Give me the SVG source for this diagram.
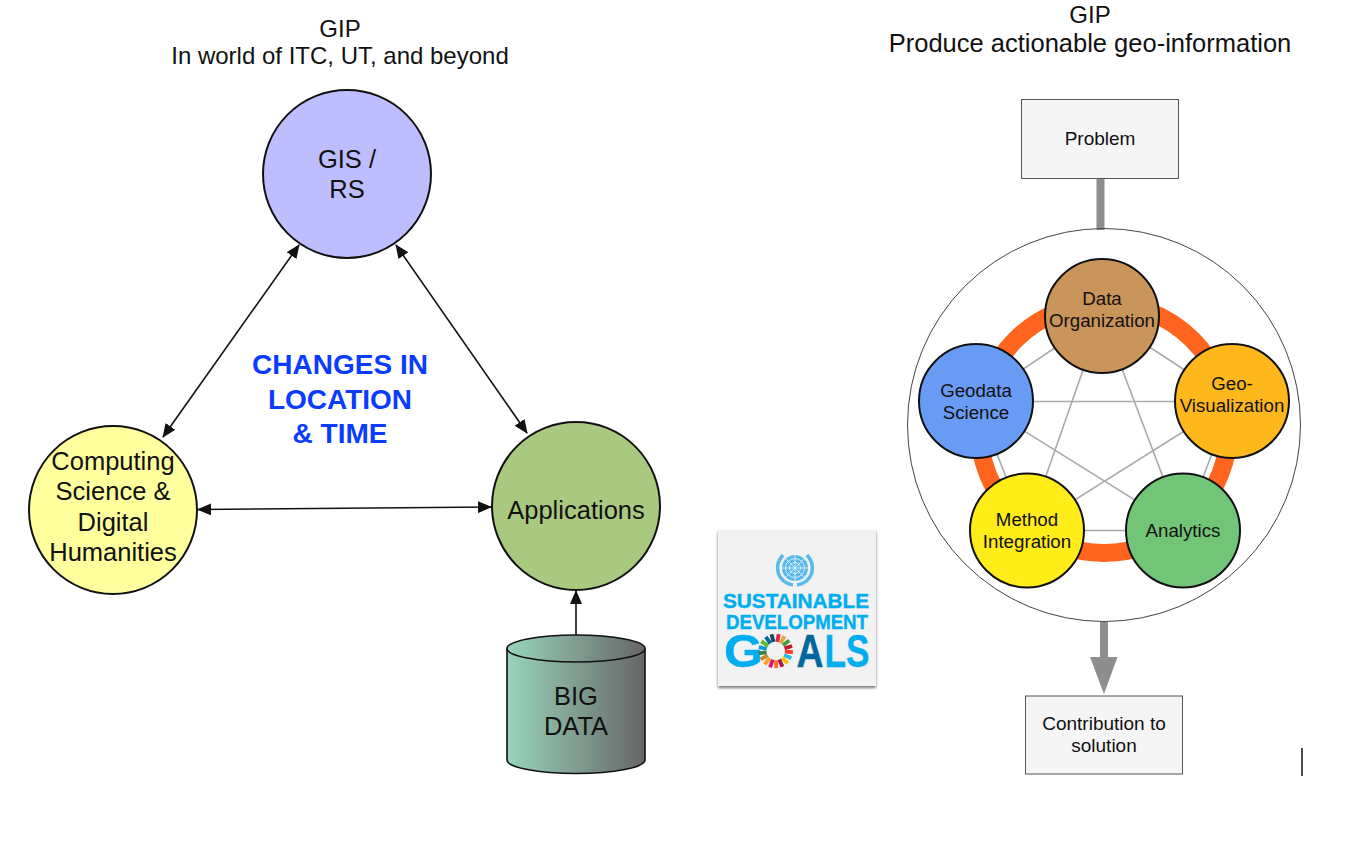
<svg xmlns="http://www.w3.org/2000/svg" width="1351" height="848" viewBox="0 0 1351 848">
<style>
text{font-family:"Liberation Sans",Arial,sans-serif;fill:#111;text-anchor:middle}
.t{font-size:24px}.t2{font-size:25.500px}.n{font-size:25.500px}.p{font-size:18.700px}.b{font-size:19px}
.c{font-size:28px;font-weight:700;fill:#0a3cff}
.big{stroke:#111;stroke-width:2}.ped{stroke:#111;stroke-width:2}
.arrow{stroke:#111;stroke-width:1.600;fill:none;marker-start:url(#ah);marker-end:url(#ah)}
.chord{stroke:#aaa;stroke-width:1.600}
.box{fill:#f5f5f5;stroke:#555;stroke-width:1}
.s{font-weight:700;fill:#00aeef;stroke:#00aeef;stroke-width:.4}
</style>
<defs>
<marker id="ah" viewBox="0 0 14 12" refX="13" refY="6" markerWidth="14" markerHeight="12" markerUnits="userSpaceOnUse" orient="auto-start-reverse"><path d="M0 0L14 6L0 12Z" fill="#111"/></marker>
<linearGradient id="cyl" x1="0" x2="1" y1="0" y2="0"><stop offset="0" stop-color="#98d4ba"/><stop offset="1" stop-color="#666"/></linearGradient>
<filter id="sh" x="-10%" y="-10%" width="120%" height="120%"><feDropShadow dx="0" dy="2" stdDeviation="1.500" flood-color="#555" flood-opacity=".8"/></filter>
</defs>

<g id="titles">
<text class="t" x="340" y="37">GIP</text>
<text class="t" x="340" y="64">In world of ITC, UT, and beyond</text>
<text class="t" x="1090" y="23">GIP</text>
<text class="t2" x="1090" y="52">Produce actionable geo-information</text>
</g>

<g id="connectors">
<line class="arrow" x1="299" y1="245" x2="163" y2="437"/>
<line class="arrow" x1="396" y1="245" x2="527" y2="433"/>
<line class="arrow" x1="198" y1="509.500" x2="491" y2="507"/>
<line x1="576" y1="635" x2="576" y2="591" stroke="#111" stroke-width="1.600" marker-end="url(#ah)"/>
<line x1="1100.500" y1="178" x2="1100.500" y2="230" stroke="#8e8e8e" stroke-width="8"/>
<path d="M1100 622H1108V657H1117.500L1104 694L1090 657H1100Z" fill="#8e8e8e"/>
</g>

<g id="gis"><circle class="big" cx="347" cy="174" r="84" fill="#bdbdff"/><text class="n" x="347" y="168">GIS /</text><text class="n" x="347" y="198">RS</text></g>
<g id="computing"><circle class="big" cx="113" cy="510" r="84" fill="#ffff9e"/><text class="n" x="113" y="470">Computing</text><text class="n" x="113" y="500">Science &amp;</text><text class="n" x="113" y="531">Digital</text><text class="n" x="113" y="561">Humanities</text></g>
<g id="applications"><circle class="big" cx="576" cy="506" r="84" fill="#a9c981"/><text class="n" x="576" y="519">Applications</text></g>
<g id="bigdata"><path d="M507 648.500A69 13.500 0 0 1 645 648.500V760A69 13.500 0 0 1 507 760Z" fill="url(#cyl)" stroke="#111" stroke-width="1.600"/><path d="M507 648.500A69 13.500 0 0 0 645 648.500" fill="none" stroke="#111" stroke-width="1.600"/><text class="n" x="576" y="705">BIG</text><text class="n" x="576" y="735">DATA</text></g>

<g id="changes"><text class="c" x="340" y="374">CHANGES IN</text><text class="c" x="340" y="409">LOCATION</text><text class="c" x="340" y="443">&amp; TIME</text></g>

<g id="sdg">
<rect x="718" y="530" width="158" height="156" fill="#f2f2f2" filter="url(#sh)"/>
<circle cx="795" cy="568" r="13" fill="#5bb8ea"/>
<g fill="none" stroke="#eef7fc" stroke-width=".8"><circle cx="795" cy="568" r="9.500"/><circle cx="795" cy="568" r="5.500"/><path d="M795 555V581M782 568H808M785.800 558.800L804.200 577.200M804.200 558.800L785.800 577.200"/></g>
<path d="M783 555C773 566 777 582 793 585M807 555C817 566 813 582 797 585" fill="none" stroke="#5bb8ea" stroke-width="3.500"/>
<text class="s" x="796" y="608" font-size="21" textLength="146" lengthAdjust="spacingAndGlyphs">SUSTAINABLE</text>
<text class="s" x="797" y="629" font-size="21" textLength="142" lengthAdjust="spacingAndGlyphs">DEVELOPMENT</text>
<text class="s" x="743.500" y="667" font-size="46" textLength="39" lengthAdjust="spacingAndGlyphs">G</text>
<text class="s" x="810" y="667" font-size="46" style="fill:#00689d;stroke:#00689d" textLength="27" lengthAdjust="spacingAndGlyphs">A</text>
<text class="s" x="847" y="667" font-size="46" textLength="45" lengthAdjust="spacingAndGlyphs">LS</text>
<g fill="none" stroke-width="8" transform="translate(775.700 651)">
<g id="wheel">
<path d="M-1.900 -13.200L1.900 -13.200" stroke="#e5243b" transform="rotate(10)"/>
<path d="M-1.900 -13.200L1.900 -13.200" stroke="#dda63a" transform="rotate(31)"/>
<path d="M-1.900 -13.200L1.900 -13.200" stroke="#4c9f38" transform="rotate(52)"/>
<path d="M-1.900 -13.200L1.900 -13.200" stroke="#c5192d" transform="rotate(73)"/>
<path d="M-1.900 -13.200L1.900 -13.200" stroke="#ff3a21" transform="rotate(94)"/>
<path d="M-1.900 -13.200L1.900 -13.200" stroke="#26bde2" transform="rotate(115)"/>
<path d="M-1.900 -13.200L1.900 -13.200" stroke="#fcc30b" transform="rotate(136)"/>
<path d="M-1.900 -13.200L1.900 -13.200" stroke="#a21942" transform="rotate(157)"/>
<path d="M-1.900 -13.200L1.900 -13.200" stroke="#fd6925" transform="rotate(178)"/>
<path d="M-1.900 -13.200L1.900 -13.200" stroke="#dd1367" transform="rotate(199)"/>
<path d="M-1.900 -13.200L1.900 -13.200" stroke="#fd9d24" transform="rotate(220)"/>
<path d="M-1.900 -13.200L1.900 -13.200" stroke="#bf8b2e" transform="rotate(241)"/>
<path d="M-1.900 -13.200L1.900 -13.200" stroke="#3f7e44" transform="rotate(262)"/>
<path d="M-1.900 -13.200L1.900 -13.200" stroke="#0a97d9" transform="rotate(283)"/>
<path d="M-1.900 -13.200L1.900 -13.200" stroke="#56c02b" transform="rotate(304)"/>
<path d="M-1.900 -13.200L1.900 -13.200" stroke="#00689d" transform="rotate(325)"/>
<path d="M-1.900 -13.200L1.900 -13.200" stroke="#19486a" transform="rotate(346)"/>
</g></g>
</g>

<g id="problem"><rect class="box" x="1021.500" y="99.500" width="157" height="79"/><text class="b" x="1100" y="145">Problem</text></g>
<g id="contribution"><rect class="box" x="1025.500" y="696" width="157" height="78"/><text class="b" x="1104" y="730">Contribution to</text><text class="b" x="1104" y="752">solution</text></g>

<g id="pentagon">
<circle cx="1104" cy="425" r="196.500" fill="none" stroke="#444" stroke-width="1"/>
<circle cx="1104" cy="428" r="125" fill="none" stroke="#ff651f" stroke-width="18"/>
<g id="chords" class="chord">
<line x1="1102" y1="316" x2="1232" y2="401"/><line x1="1102" y1="316" x2="976" y2="401"/>
<line x1="1102" y1="316" x2="1183" y2="530"/><line x1="1102" y1="316" x2="1027" y2="530"/>
<line x1="976" y1="401.500" x2="1232" y2="401.500"/><line x1="976" y1="401" x2="1183" y2="530"/>
<line x1="976" y1="401" x2="1027" y2="530"/><line x1="1232" y1="401" x2="1183" y2="530"/>
<line x1="1232" y1="401" x2="1027" y2="530"/><line x1="1027" y1="530.500" x2="1183" y2="530.500"/>
</g>
</g>
<g id="dataorg"><circle class="ped" cx="1102" cy="316" r="57" fill="#c9955a"/><text class="p" x="1102" y="305">Data</text><text class="p" x="1102" y="327">Organization</text></g>
<g id="geovis"><circle class="ped" cx="1232" cy="401" r="57" fill="#ffb81c"/><text class="p" x="1232" y="390">Geo-</text><text class="p" x="1232" y="412">Visualization</text></g>
<g id="geodata"><circle class="ped" cx="976" cy="401" r="57" fill="#6a9bf4"/><text class="p" x="976" y="397">Geodata</text><text class="p" x="976" y="419">Science</text></g>
<g id="method"><circle class="ped" cx="1027" cy="530.500" r="57" fill="#ffec18"/><text class="p" x="1027" y="526">Method</text><text class="p" x="1027" y="548">Integration</text></g>
<g id="analytics"><circle class="ped" cx="1183" cy="530.500" r="57" fill="#72c477"/><text class="p" x="1183" y="537">Analytics</text></g>

<line x1="1302" y1="748" x2="1302" y2="776" stroke="#111" stroke-width="1.500"/>
</svg>
